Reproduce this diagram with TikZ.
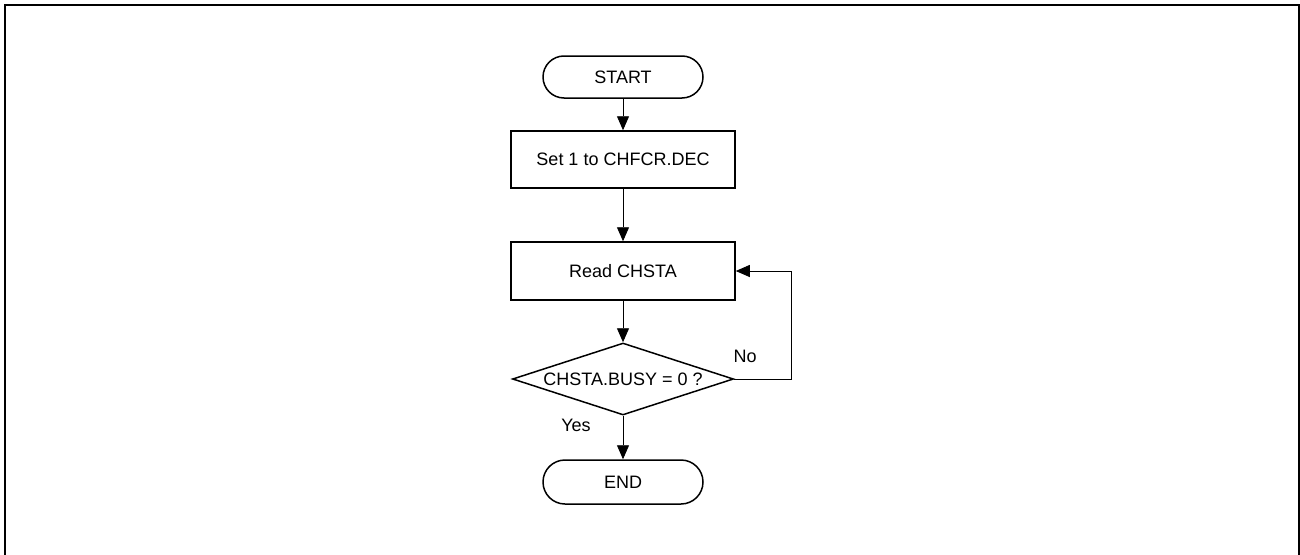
\documentclass[tikz,border=0pt]{standalone}
\usepackage{fontspec}
\setmainfont{Liberation Sans}
\usetikzlibrary{shapes.geometric,arrows.meta}
\begin{document}
\begin{tikzpicture}[x=1pt,y=-1pt,
  font=\fontsize{18}{21}\selectfont,
  term/.style={draw,line width=1.5pt,rounded corners=21pt,minimum width=160pt,minimum height=42pt,inner sep=0pt},
  proc/.style={draw,line width=1.5pt,minimum width=224pt,minimum height=57pt,inner sep=0pt},
  dec/.style={draw,diamond,line width=1.5pt,aspect=3.07,minimum width=221pt,minimum height=72pt,inner sep=0pt},
  conn/.style={line width=0.9pt,-{Triangle[length=14pt,width=12pt]}},
  lbl/.style={inner sep=0pt}]
\useasboundingbox (0,0) rectangle (1300,554);
\draw[line width=2pt] (5,560) -- (5,5) -- (1298.5,5) -- (1298.5,560);
\node[term] (start) at (623,77) {START};
\node[proc] (set) at (623,159.5) {Set 1 to CHFCR.DEC};
\node[proc,minimum height=58pt] (read) at (623,271) {Read CHSTA};
\node[dec] (busy) at (623,379) {CHSTA.BUSY = 0 ?};
\node[term,minimum height=44pt,rounded corners=22pt] (end) at (623,482) {END};
\coordinate (lr) at (791,379);
\coordinate (ur) at (791,271);
\draw[conn] (start) -- (set);
\draw[conn] (set) -- (read);
\draw[conn] (read) -- (busy);
\draw[conn] (busy) -- (end);
\draw[conn] (busy.east) -- (lr) -- (ur) -- (read.east);
\node[lbl] (no) at (745,356) {No};
\node[lbl] (yes) at (576,425) {Yes};
\end{tikzpicture}
\end{document}
